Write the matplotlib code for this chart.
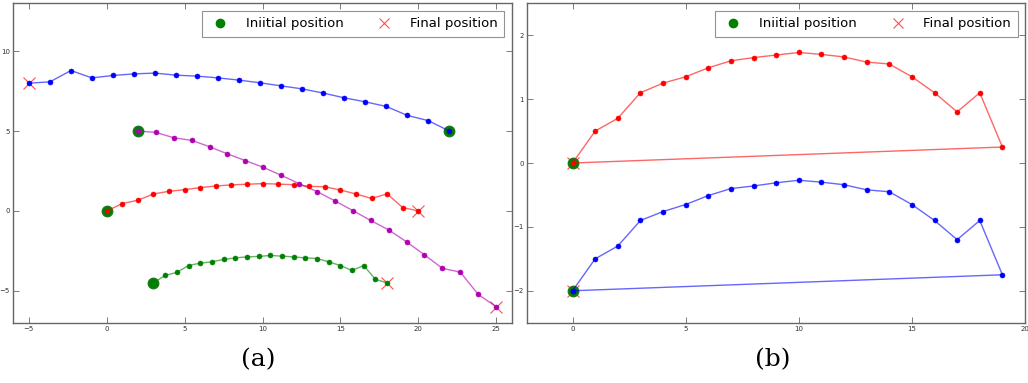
import matplotlib
matplotlib.use("Agg")
import matplotlib.pyplot as plt
from matplotlib.lines import Line2D

# ---- panel (a): four trajectories ----
blue_x = [22, 20.65, 19.3, 17.95, 16.6, 15.25, 13.9, 12.55, 11.2, 9.85, 8.5,
          7.15, 5.8, 4.45, 3.1, 1.75, 0.4, -0.95, -2.3, -3.65, -5]
blue_y = [5.0, 5.65, 5.98, 6.54, 6.83, 7.08, 7.38, 7.64, 7.83, 8.02, 8.19,
          8.33, 8.44, 8.5, 8.63, 8.58, 8.48, 8.33, 8.79, 8.08, 8.0]

magenta_x = [2, 3.15, 4.3, 5.45, 6.6, 7.75, 8.9, 10.05, 11.2, 12.35, 13.5,
             14.65, 15.8, 16.95, 18.1, 19.25, 20.4, 21.55, 22.7, 23.85, 25]
magenta_y = [5.0, 4.92, 4.58, 4.42, 4.02, 3.57, 3.15, 2.73, 2.23, 1.71, 1.21,
             0.63, 0.02, -0.6, -1.19, -1.94, -2.75, -3.6, -3.83, -5.23, -6.0]

red_x = [0, 1, 2, 3, 4, 5, 6, 7, 8, 9, 10, 11, 12, 13, 14, 15, 16, 17, 18, 19, 20]
red_y = [0.0, 0.46, 0.67, 1.06, 1.23, 1.33, 1.46, 1.56, 1.63, 1.67, 1.71,
         1.68, 1.64, 1.54, 1.51, 1.31, 1.06, 0.78, 1.07, 0.21, 0.0]

green_x = [3, 3.75, 4.5, 5.25, 6, 6.75, 7.5, 8.25, 9, 9.75, 10.5, 11.25, 12,
           12.75, 13.5, 14.25, 15, 15.75, 16.5, 17.25, 18]
green_y = [-4.5, -4.04, -3.85, -3.42, -3.27, -3.19, -3.04, -2.94, -2.88, -2.85,
           -2.79, -2.83, -2.88, -2.94, -2.98, -3.19, -3.42, -3.73, -3.42, -4.29, -4.5]

# ---- panel (b): two closed trajectories ----
b_x = [0, 1, 2, 3, 4, 5, 6, 7, 8, 9, 10, 11, 12, 13, 14, 15, 16, 17, 18, 19, 0]
b_red_y = [0.0, 0.5, 0.7, 1.1, 1.25, 1.35, 1.49, 1.6, 1.65, 1.69, 1.73, 1.7,
           1.66, 1.58, 1.55, 1.35, 1.1, 0.8, 1.1, 0.25, 0.0]
b_blue_y = [-2.0, -1.5, -1.3, -0.9, -0.76, -0.65, -0.51, -0.4, -0.36, -0.31,
            -0.27, -0.3, -0.34, -0.42, -0.45, -0.65, -0.9, -1.2, -0.9, -1.75, -2.0]

legend_labels = ["Iniitial position", "Final position"]
tick_a_x = [-5, 0, 5, 10, 15, 20, 25]
tick_a_y = [-5, 0, 5, 10]
tick_b_x = [0, 5, 10, 15, 20]
tick_b_y = [-2, -1, 0, 1, 2]

W, H = 1028, 383
fig = plt.figure(figsize=(W / 100, H / 100), dpi=100)
ax_a = fig.add_axes([13.3 / W, (H - 322.7) / H, 498.4 / W, 319.4 / H])
ax_b = fig.add_axes([527.3 / W, (H - 322.7) / H, 497.7 / W, 319.4 / H])

spine_col = "#666666"


def draw_traj(ax, xs, ys, color, start_idx=0, end_idx=-1):
    ax.plot(xs[end_idx], ys[end_idx], marker="x", color="#ff5050",
            markersize=8, markeredgewidth=0.8, linestyle="none", zorder=2)
    ax.plot(xs[start_idx], ys[start_idx], marker="o", color="green",
            markeredgecolor="#1a7a1a", markersize=7.5, linestyle="none", zorder=3)
    ax.plot(xs, ys, color=color, alpha=0.6, linewidth=1.0, zorder=4)
    ax.plot(xs, ys, color=color, marker="o", markersize=3.6,
            markeredgewidth=0.4, markeredgecolor=color, linestyle="none", zorder=5)


draw_traj(ax_a, blue_x, blue_y, "blue")
draw_traj(ax_a, magenta_x, magenta_y, "#b000b0")
draw_traj(ax_a, red_x, red_y, "red")
draw_traj(ax_a, green_x, green_y, "green")

draw_traj(ax_b, b_x, b_red_y, "red")
draw_traj(ax_b, b_x, b_blue_y, "blue")

ax_a.set_xlim(-6, 26)
ax_a.set_ylim(-7, 13)
ax_a.set_xticks(tick_a_x)
ax_a.set_yticks(tick_a_y)
ax_b.set_xlim(-2, 20)
ax_b.set_ylim(-2.5, 2.5)
ax_b.set_xticks(tick_b_x)
ax_b.set_yticks(tick_b_y)

handles = [
    Line2D([], [], marker="o", color="green", markersize=6, linestyle="none"),
    Line2D([], [], marker="x", color="#ff5050", markersize=7,
           markeredgewidth=0.8, linestyle="none"),
]

for ax in (ax_a, ax_b):
    for s in ax.spines.values():
        s.set_color(spine_col)
        s.set_linewidth(1.0)
    ax.tick_params(direction="in", length=4, width=0.6, color=spine_col,
                   top=True, right=True, labelsize=5, labelcolor="#333333",
                   pad=2.5)
    leg = ax.legend(handles, legend_labels, ncol=2, loc="upper right",
                    fontsize=9.5, frameon=True, fancybox=False,
                    borderaxespad=0.55, handletextpad=1.05, columnspacing=2.2,
                    borderpad=0.5, handlelength=1.8)
    leg.get_frame().set_edgecolor("#777777")
    leg.get_frame().set_linewidth(0.8)

fig.text(258 / W, (H - 360) / H, "(a)", ha="center", va="center",
         fontsize=18, family="DejaVu Serif")
fig.text(773 / W, (H - 360) / H, "(b)", ha="center", va="center",
         fontsize=18, family="DejaVu Serif")

fig.savefig("out.png", dpi=100)
